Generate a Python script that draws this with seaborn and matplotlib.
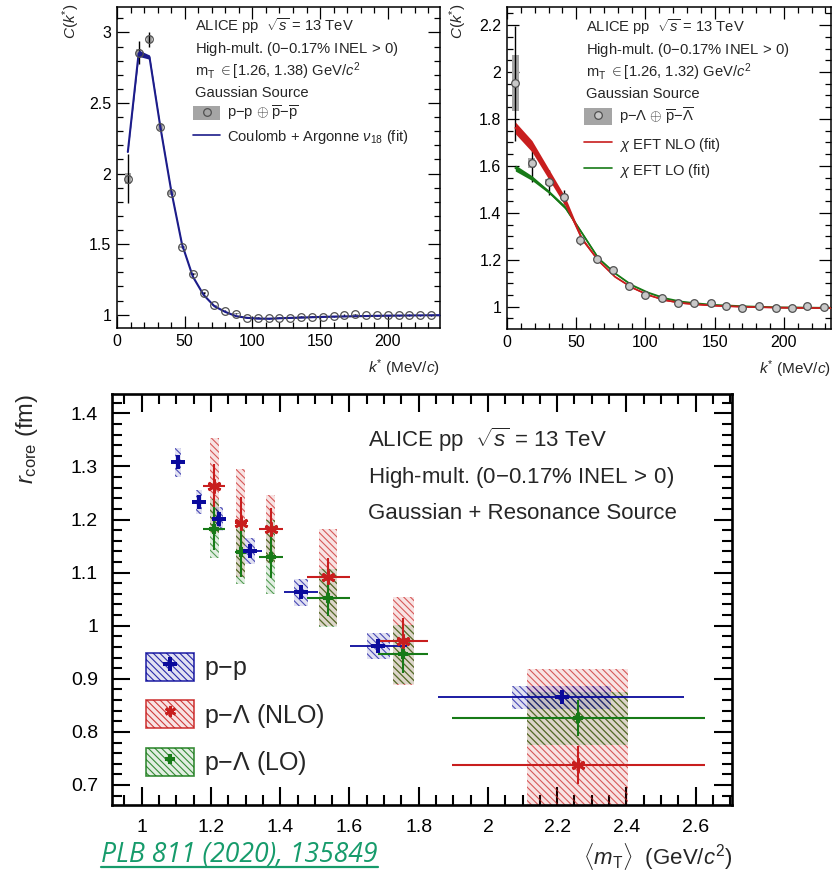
import numpy as np
import matplotlib
matplotlib.use("Agg")
import matplotlib.pyplot as plt
import matplotlib.colors as mcolors
import seaborn as sns
from matplotlib.patches import Patch
from matplotlib.lines import Line2D
from matplotlib.ticker import MultipleLocator, FuncFormatter

# ---------------- data: p-p correlation function ----------------
pp_k = [8, 16, 24, 32, 40, 48, 56, 64, 72, 80, 88, 96, 104, 112, 120, 128, 136, 144,
        152, 160, 168, 176, 184, 192, 200, 208, 216, 224, 232]
pp_c = [1.965, 2.856, 2.95, 2.331, 1.865, 1.48, 1.291, 1.154, 1.066, 1.026, 1.007, 0.98,
        0.978, 0.975, 0.98, 0.978, 0.985, 0.985, 0.985, 0.988, 0.998, 1.002, 0.995, 0.995,
        0.997, 0.997, 0.998, 0.995, 0.997]
pp_stat = [0.177, 0.083, 0.053, 0.02, 0.012, 0.01, 0.008, 0.006, 0.005, 0.005, 0.004, 0.004,
           0.004, 0.004, 0.004, 0.004, 0.004, 0.004, 0.004, 0.004, 0.004, 0.004, 0.004, 0.004,
           0.004, 0.004, 0.004, 0.004, 0.004]
pp_syst = [0.04, 0.025, 0.025, 0.02, 0.015, 0.01, 0.008, 0.005, 0.004, 0.003, 0.003, 0.003,
           0.003, 0.003, 0.003, 0.003, 0.003, 0.003, 0.003, 0.003, 0.003, 0.003, 0.003, 0.003,
           0.003, 0.003, 0.003, 0.003, 0.003]
pp_fit_k = [8, 16, 24, 32, 40, 48, 56, 64, 72, 80, 88, 96, 104, 112, 120, 136, 160, 200, 240]
pp_fit_lo = [2.148, 2.83, 2.81, 2.325, 1.877, 1.497, 1.268, 1.138, 1.058, 1.018, 0.988, 0.976,
             0.971, 0.97, 0.973, 0.978, 0.985, 0.992, 0.996]
pp_fit_hi = [2.158, 2.875, 2.84, 2.338, 1.885, 1.503, 1.273, 1.142, 1.062, 1.022, 0.992, 0.98,
             0.975, 0.974, 0.977, 0.982, 0.989, 0.995, 0.998]

# ---------------- data: p-Lambda correlation function ----------------
pl_k = [6, 18, 30, 41.5, 53, 65, 76.5, 88, 100, 112, 123.5, 135, 147, 158.5, 170, 182,
        194, 205.5, 217, 229]
pl_c = [1.953, 1.612, 1.531, 1.467, 1.284, 1.202, 1.156, 1.088, 1.05, 1.038, 1.014, 1.014,
        1.017, 1.004, 0.993, 1.004, 0.993, 0.993, 1.003, 0.997]
pl_stat = [0.245, 0.08, 0.053, 0.03, 0.02, 0.012, 0.01, 0.008, 0.007, 0.006, 0.005, 0.005,
           0.005, 0.005, 0.005, 0.005, 0.005, 0.005, 0.005, 0.005]
pl_syst = [0.12, 0.02, 0.012, 0.01, 0.008, 0.006, 0.005, 0.004, 0.004, 0.003, 0.003, 0.003,
           0.003, 0.003, 0.003, 0.003, 0.003, 0.003, 0.003, 0.003]
fit_k = [6, 18, 30, 42, 54, 66, 78, 90, 102, 114, 126, 138, 150, 174, 198, 234]
nlo_lo = [1.737, 1.66, 1.545, 1.43, 1.283, 1.193, 1.125, 1.08, 1.048, 1.026, 1.014, 1.008,
          1.003, 0.998, 0.995, 0.993]
nlo_hi = [1.787, 1.708, 1.588, 1.468, 1.298, 1.2, 1.13, 1.085, 1.052, 1.03, 1.018, 1.011,
          1.006, 1.0, 0.997, 0.995]
lo_lo = [1.578, 1.538, 1.484, 1.416, 1.31, 1.203, 1.14, 1.09, 1.058, 1.034, 1.02, 1.012,
         1.006, 1.0, 0.996, 0.994]
lo_hi = [1.604, 1.558, 1.497, 1.43, 1.32, 1.21, 1.145, 1.095, 1.062, 1.038, 1.023, 1.015,
         1.009, 1.002, 0.998, 0.996]

# ---------------- data: r_core vs <mT> ----------------
rpp_mt = [1.104, 1.165, 1.224, 1.313, 1.46, 1.683, 2.213]
rpp_r = [1.308, 1.233, 1.201, 1.141, 1.063, 0.962, 0.865]
rpp_xlo = [0.004, 0.004, 0.004, 0.015, 0.05, 0.081, 0.356]
rpp_xhi = [0.004, 0.004, 0.004, 0.034, 0.05, 0.082, 0.354]
rpp_stat = [0.008, 0.008, 0.008, 0.008, 0.008, 0.008, 0.008]
rpp_syst = [0.027, 0.023, 0.022, 0.025, 0.025, 0.025, 0.021]
rpp_bw = [0.009, 0.009, 0.01, 0.014, 0.019, 0.033, 0.143]

rpl_mt = [1.21, 1.286, 1.372, 1.537, 1.755, 2.26]
rpl_xlo = [0.032, 0.017, 0.032, 0.061, 0.072, 0.365]
rpl_xhi = [0.031, 0.017, 0.037, 0.065, 0.073, 0.367]
rpl_bw = [0.013, 0.013, 0.013, 0.026, 0.03, 0.146]
rnlo_r = [1.264, 1.193, 1.182, 1.091, 0.972, 0.738]
rnlo_stat = [0.04, 0.05, 0.04, 0.036, 0.042, 0.036]
rnlo_syst = [0.09, 0.102, 0.064, 0.092, 0.083, 0.18]
rlo_r = [1.183, 1.139, 1.129, 1.052, 0.946, 0.826]
rlo_stat = [0.04, 0.047, 0.04, 0.033, 0.035, 0.034]
rlo_syst = [0.055, 0.06, 0.07, 0.054, 0.055, 0.05]

# ---------------- style ----------------
sns.set_theme(style="ticks")
plt.rcParams["font.family"] = ["Liberation Sans", "DejaVu Sans"]
plt.rcParams["mathtext.fontset"] = "custom"
plt.rcParams["mathtext.rm"] = "Liberation Sans"
plt.rcParams["mathtext.it"] = "Liberation Sans:italic"
plt.rcParams["mathtext.bf"] = "Liberation Sans:bold"
plt.rcParams["hatch.linewidth"] = 0.8

BLUE = "#0a0a9c"
RED = "#c81e1e"
GREEN = "#177a17"
FITBLUE = "#1c1c8a"
GRAY = "#a5a5a5"

fig = plt.figure(figsize=(8.33, 8.75), dpi=100)
W, H = 833.0, 875.0


def axes_px(l, t, r, b):
    return fig.add_axes([l / W, 1 - b / H, (r - l) / W, (b - t) / H])


ax1 = axes_px(117, 7, 440, 328)
ax2 = axes_px(507, 7, 831, 329)
ax3 = axes_px(112, 394, 732, 805)

fmt = FuncFormatter(lambda v, p: "%g" % round(v, 3))


def root_axes(ax, xmaj, xmin, ymaj, ymin, lmaj, lmin, lab, pad, spw, tw):
    ax.xaxis.set_major_locator(MultipleLocator(xmaj))
    ax.xaxis.set_minor_locator(MultipleLocator(xmin))
    ax.yaxis.set_major_locator(MultipleLocator(ymaj))
    ax.yaxis.set_minor_locator(MultipleLocator(ymin))
    ax.xaxis.set_major_formatter(fmt)
    ax.yaxis.set_major_formatter(fmt)
    ax.tick_params(which="both", direction="in", top=True, right=True, colors="black",
                   width=tw, labelsize=lab, pad=pad)
    ax.tick_params(which="major", length=lmaj)
    ax.tick_params(which="minor", length=lmin)
    for s in ax.spines.values():
        s.set_linewidth(spw)
        s.set_color("black")
        s.set_visible(True)


TXT = 10.6

# ================= panel 1: p-p =================
ax1.set_xlim(0, 238.6)
ax1.set_ylim(0.906, 3.18)
root_axes(ax1, 50, 10, 0.5, 0.1, 8.5, 4.3, 11.5, 4, 1.1, 0.9)
c_pp = np.array(pp_c)
s_pp = np.array(pp_syst)
ax1.bar(pp_k, 2 * s_pp, bottom=c_pp - s_pp, width=4, color=GRAY, linewidth=0, zorder=1)
ax1.errorbar(pp_k, pp_c, yerr=pp_stat, fmt="none", ecolor="black", elinewidth=1, zorder=2)
lo = np.array(pp_fit_lo)
hi = np.array(pp_fit_hi)
ax1.fill_between(pp_fit_k, lo, hi, color=FITBLUE, linewidth=0, zorder=3)
sns.lineplot(x=pp_fit_k, y=(lo + hi) / 2, ax=ax1, color=FITBLUE, linewidth=1.5, zorder=3,
             legend=False)
ax1.plot(pp_k, pp_c, linestyle="none", marker="o", markersize=5.5, markerfacecolor="none",
         markeredgecolor="#505050", markeredgewidth=0.9, zorder=4)
for t, yy in zip([r"ALICE pp  $\sqrt{s}$ = 13 TeV", "High-mult. (0$-$0.17% INEL$\\,>\\,$0)",
                  r"m$_{\rm T}$ $\in$[1.26, 1.38) GeV/$c^{2}$", "Gaussian Source"],
                 [0.942, 0.869, 0.800, 0.731]):
    ax1.text(0.241, yy, t, transform=ax1.transAxes, fontsize=TXT, va="center", ha="left")
h1 = (Patch(facecolor=GRAY, edgecolor="none"),
      Line2D([], [], linestyle="none", marker="o", markersize=5.5, markerfacecolor="none",
             markeredgecolor="#505050", markeredgewidth=0.9))
h2 = Line2D([], [], color=FITBLUE, linewidth=1.2)
ax1.legend([h1, h2], [r"p$-$p $\oplus$ $\overline{\rm p}$$-$$\overline{\rm p}$",
                      r"Coulomb + Argonne $\nu_{18}$ (fit)"],
           loc="upper left", bbox_to_anchor=(0.236, 0.697), frameon=False, fontsize=TXT,
           handlelength=1.85, handleheight=1.1, handletextpad=0.45, labelspacing=0.3,
           borderpad=0, borderaxespad=0)
ax1.set_ylabel(r"$C(k^{*})$", fontsize=11, loc="top")
ax1.yaxis.set_label_coords(-0.108, 1.01)
ax1.set_xlabel(r"$k^{*}$ (MeV/$c$)", fontsize=11, loc="right")
ax1.xaxis.set_label_coords(1.0, -0.093)

# ================= panel 2: p-Lambda =================
ax2.set_xlim(0, 234)
ax2.set_ylim(0.905, 2.277)
root_axes(ax2, 50, 10, 0.2, 0.05, 8.5, 4.3, 11.5, 4, 1.1, 0.9)
c_pl = np.array(pl_c)
s_pl = np.array(pl_syst)
ax2.bar(pl_k, 2 * s_pl, bottom=c_pl - s_pl, width=5, color=GRAY, linewidth=0, zorder=1)
ax2.errorbar(pl_k, pl_c, yerr=pl_stat, fmt="none", ecolor="black", elinewidth=1, zorder=2)
nl, nh = np.array(nlo_lo), np.array(nlo_hi)
ll, lh = np.array(lo_lo), np.array(lo_hi)
ax2.fill_between(fit_k, ll, lh, color=GREEN, linewidth=0, zorder=3)
sns.lineplot(x=fit_k, y=(ll + lh) / 2, ax=ax2, color=GREEN, linewidth=1.3, zorder=3,
             legend=False)
ax2.fill_between(fit_k, nl, nh, color=RED, linewidth=0, zorder=3.5)
sns.lineplot(x=fit_k, y=(nl + nh) / 2, ax=ax2, color=RED, linewidth=1.3, zorder=3.5,
             legend=False)
ax2.plot(pl_k, pl_c, linestyle="none", marker="o", markersize=5.5, markerfacecolor="#c8c8c8",
         markeredgecolor="#505050", markeredgewidth=0.9, zorder=4)
for t, yy in zip([r"ALICE pp  $\sqrt{s}$ = 13 TeV", "High-mult. (0$-$0.17% INEL$\\,>\\,$0)",
                  r"m$_{\rm T}$ $\in$[1.26, 1.32) GeV/$c^{2}$", "Gaussian Source"],
                 [0.939, 0.866, 0.797, 0.729]):
    ax2.text(0.243, yy, t, transform=ax2.transAxes, fontsize=TXT, va="center", ha="left")
g1 = (Patch(facecolor=GRAY, edgecolor="none"),
      Line2D([], [], linestyle="none", marker="o", markersize=5.5, markerfacecolor="#c8c8c8",
             markeredgecolor="#505050", markeredgewidth=0.9))
g2 = Line2D([], [], color=RED, linewidth=1.2)
g3 = Line2D([], [], color=GREEN, linewidth=1.2)
ax2.legend([g1, g2, g3], [r"p$-\Lambda$ $\oplus$ $\overline{\rm p}$$-$$\overline{\Lambda}$",
                          r"$\chi$ EFT NLO (fit)", r"$\chi$ EFT LO (fit)"],
           loc="upper left", bbox_to_anchor=(0.237, 0.693), frameon=False, fontsize=TXT,
           handlelength=1.95, handleheight=1.4, handletextpad=0.45, labelspacing=0.55,
           borderpad=0, borderaxespad=0)
ax2.set_ylabel(r"$C(k^{*})$", fontsize=11, loc="top")
ax2.yaxis.set_label_coords(-0.118, 1.01)
ax2.set_xlabel(r"$k^{*}$ (MeV/$c$)", fontsize=11, loc="right")
ax2.xaxis.set_label_coords(1.0, -0.09)

# ================= panel 3: r_core vs mT =================
ax3.set_xlim(0.914, 2.705)
ax3.set_ylim(0.6623, 1.4364)
root_axes(ax3, 0.2, 0.05, 0.1, 0.02, 13, 7, 14, 10, 1.9, 1.5)
HATCH = "\\\\\\\\\\"


def rgba(c, a):
    r, g, b = mcolors.to_rgb(c)
    return (r, g, b, a)


def syst_boxes(x, y, s, bw, color, z):
    x, y, s, bw = map(np.array, (x, y, s, bw))
    ax3.bar(x, 2 * s, bottom=y - s, width=2 * bw, facecolor=rgba(color, 0.12),
            edgecolor=rgba(color, 0.7), hatch=HATCH, linewidth=0, zorder=z)


syst_boxes(rpl_mt, rnlo_r, rnlo_syst, rpl_bw, RED, 1)
syst_boxes(rpl_mt, rlo_r, rlo_syst, rpl_bw, GREEN, 1.2)
syst_boxes(rpp_mt, rpp_r, rpp_syst, rpp_bw, BLUE, 1.4)

ax3.errorbar(rpl_mt, rnlo_r, xerr=[rpl_xlo, rpl_xhi], yerr=rnlo_stat, fmt="none", ecolor=RED,
             elinewidth=1.5, zorder=3)
ax3.errorbar(rpl_mt, rlo_r, xerr=[rpl_xlo, rpl_xhi], yerr=rlo_stat, fmt="none", ecolor=GREEN,
             elinewidth=1.5, zorder=3.2)
ax3.errorbar(rpp_mt, rpp_r, xerr=[rpp_xlo, rpp_xhi], yerr=rpp_stat, fmt="none", ecolor=BLUE,
             elinewidth=1.3, zorder=3.4)

MK_PP = dict(marker="P", markersize=10, color=BLUE, markeredgewidth=0)
MK_NLO = dict(marker=(6, 2, 0), markersize=10, color=RED, markeredgewidth=2)
MK_LO = dict(marker="P", markersize=6, markerfacecolor="none", markeredgecolor=GREEN,
             markeredgewidth=1.5)
ax3.plot(rpl_mt, rnlo_r, linestyle="none", zorder=4, **MK_NLO)
ax3.plot(rpl_mt, rlo_r, linestyle="none", zorder=4.2, **MK_LO)
ax3.plot(rpp_mt, rpp_r, linestyle="none", zorder=4.4, **MK_PP)

for t, yy in zip([r"ALICE pp  $\sqrt{s}$ = 13 TeV", "High-mult. (0$-$0.17% INEL$\\,>\\,$0)",
                  "Gaussian + Resonance Source"], [0.888, 0.798, 0.710]):
    ax3.text(0.413, yy, t, transform=ax3.transAxes, fontsize=16, va="center", ha="left")


def leg_handle(color, mk):
    return (Patch(facecolor=rgba(color, 0.12), edgecolor=rgba(color, 0.85), hatch=HATCH,
                  linewidth=1.2),
            Line2D([], [], linestyle="none", **mk))


ax3.legend([leg_handle(BLUE, MK_PP), leg_handle(RED, dict(MK_NLO, markersize=8)),
            leg_handle(GREEN, MK_LO)],
           [r"p$-$p", r"p$-\Lambda$ (NLO)", r"p$-\Lambda$ (LO)"],
           loc="lower left", bbox_to_anchor=(0.055, 0.068), frameon=False, fontsize=18,
           handlelength=1.9, handleheight=1.35, handletextpad=0.4, labelspacing=0.72,
           borderpad=0, borderaxespad=0)
ax3.set_ylabel(r"$r_{\rm core}$ (fm)", fontsize=17, loc="top")
ax3.yaxis.set_label_coords(-0.116, 1.0)
ax3.set_xlabel(r"$\langle m_{\rm T}\rangle$  (GeV/$c^{2}$)", fontsize=16, loc="right")
ax3.xaxis.set_label_coords(1.0, -0.088)

# reference
LINK = "#169b6b"
fig.text(101 / W, 1 - 862 / H, "PLB 811 (2020), 135849", fontsize=19.2, color=LINK,
         family=["Open Sans", "DejaVu Sans"], style="italic", va="baseline", ha="left")
fig.add_artist(Line2D([101 / W, 378 / W], [1 - 866.5 / H, 1 - 866.5 / H], color=LINK,
                      linewidth=1.6, transform=fig.transFigure))

fig.savefig("out.png", dpi=100)
